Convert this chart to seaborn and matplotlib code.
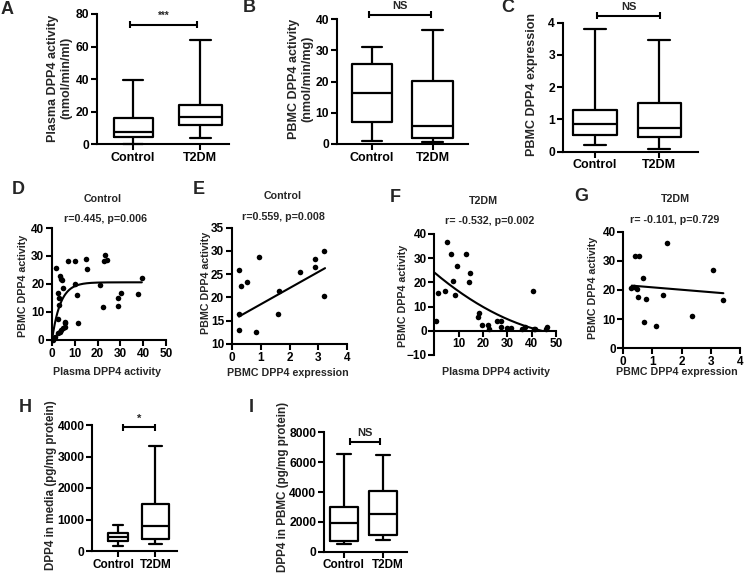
import numpy as np
import pandas as pd
import matplotlib
matplotlib.use("Agg")
import matplotlib.pyplot as plt
import matplotlib.transforms as mtrans
import seaborn as sns

# ---------------- data ----------------
groups = ["Control", "T2DM"]
# five-number summaries: [min, q1, median, q3, max]
a_control = [0.3, 4.3, 7.7, 15.9, 39.7]
a_t2dm = [3.7, 11.8, 16.5, 24.4, 64.3]
b_control = [0.96, 6.95, 16.3, 25.6, 31.2]
b_t2dm = [0.75, 2.0, 5.9, 20.3, 36.6]
c_control = [0.2, 0.52, 0.86, 1.29, 3.79]
c_t2dm = [0.08, 0.47, 0.74, 1.5, 3.46]
h_control = [160, 309, 437, 576, 821]
h_t2dm = [235, 373, 800, 1483, 3328]
i_control = [492, 737, 1900, 3017, 6525]
i_t2dm = [782, 1117, 2503, 4067, 6480]

# D: Control, plasma activity vs PBMC activity
d_x = [1.9, 2.6, 3.1, 2.6, 3.1, 3.4, 3.8, 4.3, 4.9, 2.6, 3.4, 4.1, 4.9, 5.6, 5.9, 5.9,
       0.7, 0.4, 1.2, 7.1, 10.0, 10.0, 11.0, 11.5, 15.1, 15.4, 21.0, 22.2, 23.2, 22.8,
       24.0, 28.8, 29.1, 30.1, 37.9, 39.4]
d_y = [25.7, 16.7, 14.9, 7.4, 12.5, 22.7, 21.9, 21.3, 18.5, 2.4, 3.0, 3.6, 4.2, 4.8, 6.6, 6.0,
       0.6, 0.0, 1.2, 28.1, 28.3, 20.1, 16.1, 6.2, 28.9, 25.3, 19.7, 11.9, 30.4, 28.3,
       28.4, 14.9, 12.2, 16.7, 16.4, 22.1]
d_fit_plateau, d_fit_rate, d_fit_xmax = 20.6, 0.27, 39.4

# E: Control, PBMC expression vs PBMC activity
e_x = [0.25, 0.32, 0.54, 0.25, 0.25, 0.95, 0.83, 1.59, 1.65, 2.36, 2.88, 2.88, 3.2, 3.2]
e_y = [25.8, 22.5, 23.3, 16.4, 13.0, 28.8, 12.5, 16.4, 21.3, 25.5, 28.2, 26.6, 30.0, 20.3]
e_fit_intercept, e_fit_slope, e_fit_range = 15.03, 3.49, (0.25, 3.23)

# F: T2DM, plasma activity vs PBMC activity
f_x = [0.5, 1.6, 4.3, 5.3, 6.7, 7.8, 8.5, 9.2, 13.0, 14.7, 14.4, 18.3, 18.1, 19.6, 22.0,
       22.5, 25.7, 27.5, 27.5, 29.8, 31.5, 36.0, 37.1, 40.6, 40.8, 41.5, 46.0, 46.4]
f_y = [4.0, 15.4, 16.4, 36.8, 31.7, 20.5, 14.8, 26.9, 31.7, 24.0, 20.0, 7.4, 5.8, 2.4, 2.4,
       0.7, 4.0, 4.1, 1.7, 1.3, 1.3, 0.7, 1.4, 16.4, 0.7, 0.7, 0.7, 1.4]
f_fit_coef, f_fit_xmax = (24.0, -0.845, 0.0068), 44.3

# G: T2DM, PBMC expression vs PBMC activity
g_x = [0.26, 0.40, 0.54, 0.37, 0.48, 0.51, 0.69, 0.71, 0.77, 1.12, 1.35, 1.49, 2.34, 3.06, 3.41]
g_y = [20.6, 31.7, 31.7, 21.1, 20.2, 17.7, 24.0, 9.1, 16.8, 7.7, 18.4, 36.2, 11.1, 26.9, 16.5]
g_fit_intercept, g_fit_slope, g_fit_range = 21.74, -0.828, (0.29, 3.43)

# ---------------- style ----------------
sns.set_style("ticks")
plt.rcParams["font.family"] = ["Liberation Sans", "DejaVu Sans"]
plt.rcParams["font.weight"] = "bold"
plt.rcParams["axes.labelweight"] = "bold"
plt.rcParams["axes.linewidth"] = 1.5

W, H = 745, 574
fig = plt.figure(figsize=(W / 100, H / 100), dpi=100)
fig.patch.set_facecolor("white")
FS = 7.7       # scatter panels
FSB = 9.0      # box panels


def add_ax(x0, x1, y_top, y_bot):
    return fig.add_axes([x0 / W, 1 - y_bot / H, (x1 - x0) / W, (y_bot - y_top) / H])


def ftext(x, y, s, **kw):
    kw.setdefault("ha", "center")
    kw.setdefault("va", "center")
    kw.setdefault("fontsize", FS)
    fig.text(x / W, 1 - y / H, s, fontweight="bold", **kw)


def style_ax(ax, fs):
    sns.despine(ax=ax)
    ax.tick_params(direction="out", length=4, width=1.5, labelsize=fs, pad=1.5, colors="black")
    for s in ax.spines.values():
        s.set_linewidth(1.5)
        s.set_color("black")
    ax.set_xlabel("")
    ax.set_ylabel("")
    ax.patch.set_alpha(0)


def box_panel(ax, ctrl, t2dm, widths, xlim, ylim, yticks, cat_fs=FSB, label_shift=(0, 0)):
    for g, vals, w in zip(groups, [ctrl, t2dm], widths):
        df = pd.DataFrame({"group": [g] * len(vals), "value": vals})
        sns.boxplot(data=df, x="group", y="value", order=groups, whis=(0, 100),
                    width=w, fill=False, color="black", linewidth=1.6, ax=ax)
    ax.set_xlim(*xlim)
    ax.set_ylim(*ylim)
    ax.set_yticks(yticks)
    style_ax(ax, FSB - 0.3)
    ax.tick_params(axis="x", labelsize=cat_fs, length=4)
    for tick, dx in zip(ax.xaxis.get_major_ticks(), label_shift):
        lab = tick.label1
        lab.set_transform(lab.get_transform() +
                          mtrans.ScaledTranslation(dx / 100, 0, fig.dpi_scale_trans))
    for ln in ax.lines:
        ln.set_clip_on(False)


def bracket(ax, x0, x1, y, label, half_px=3.5, fs=8):
    ax_h = ax.get_window_extent().height
    y0, y1 = ax.get_ylim()
    d = half_px / ax_h * (y1 - y0) * fig.dpi / 100
    kw = dict(color="black", lw=1.5, clip_on=False, solid_capstyle="butt")
    ax.plot([x0, x1], [y, y], **kw)
    ax.plot([x0, x0], [y - d, y + d], **kw)
    ax.plot([x1, x1], [y - d, y + d], **kw)
    ax.annotate(label, xy=((x0 + x1) / 2, y), xytext=(0, 2.5), textcoords="offset points",
                ha="center", va="bottom", fontsize=fs, fontweight="bold", annotation_clip=False)


# ---------------- A ----------------
axA = add_ax(96.7, 229.3, 14, 144.3)
box_panel(axA, a_control, a_t2dm, (0.58, 0.64), (-0.54, 1.43), (0, 80), [0, 20, 40, 60, 80])
bracket(axA, -0.05, 0.95, 73.5, "***", fs=7)
ftext(59.5, 78, "Plasma DPP4 activity\n(nmol/min/ml)", rotation=90, linespacing=1.15, fontsize=FSB)

# ---------------- B ----------------
axB = add_ax(336.7, 467.7, 19.3, 144)
box_panel(axB, b_control, b_t2dm, (0.67, 0.69), (-0.58, 1.58), (0, 40), [0, 10, 20, 30, 40])
bracket(axB, -0.05, 0.97, 41.4, "NS")
ftext(301, 79, "PBMC DPP4 activity\n(nmol/min/mg)", rotation=90, linespacing=1.15, fontsize=FSB)

# ---------------- C ----------------
axC = add_ax(562.7, 698.3, 22.7, 151.7)
box_panel(axC, c_control, c_t2dm, (0.68, 0.67), (-0.5, 1.61), (0, 4), [0, 1, 2, 3, 4])
bracket(axC, 0.03, 1.02, 4.22, "NS")
ftext(532, 85, "PBMC DPP4 expression", rotation=90, fontsize=FSB)

# ---------------- H ----------------
axH = add_ax(92.3, 176.7, 425, 551)
box_panel(axH, h_control, h_t2dm, (0.55, 0.73), (-0.69, 1.57), (0, 4000), [0, 1000, 2000, 3000, 4000],
          cat_fs=8.5, label_shift=(-4.5, 0.5))
bracket(axH, 0.12, 1.0, 3927, "*", fs=8)
ftext(51, 485, "DPP4 in media (pg/mg protein)", rotation=90, fontsize=8.4)

# ---------------- I ----------------
axI = add_ax(324, 406.7, 432.3, 551.7)
box_panel(axI, i_control, i_t2dm, (0.73, 0.70), (-0.52, 1.61), (0, 8000), [0, 2000, 4000, 6000, 8000],
          cat_fs=8.5, label_shift=(-1, 4.5))
bracket(axI, 0.15, 0.92, 7374, "NS")
ftext(283, 487, "DPP4 in PBMC (pg/mg protein)", rotation=90, fontsize=8.4)


# ---------------- scatter panels ----------------
def scatter_panel(ax, xs, ys, xlim, ylim, xticks, yticks):
    sns.scatterplot(x=xs, y=ys, ax=ax, color="black", s=16, linewidth=0, clip_on=False, zorder=3)
    ax.set_xlim(*xlim)
    ax.set_ylim(*ylim)
    ax.set_xticks(xticks)
    ax.set_yticks(yticks)
    style_ax(ax, FS + 0.8)


axD = add_ax(52, 166, 228, 340)
scatter_panel(axD, d_x, d_y, (0, 50), (0, 40), [0, 10, 20, 30, 40, 50], [0, 10, 20, 30, 40])
dxs = np.linspace(0, d_fit_xmax, 200)
sns.lineplot(x=dxs, y=d_fit_plateau * (1 - np.exp(-d_fit_rate * dxs)), ax=axD, color="black", lw=1.5)

axE = add_ax(231.7, 347.3, 227.7, 344)
scatter_panel(axE, e_x, e_y, (0, 4), (10, 35), [0, 1, 2, 3, 4], [10, 15, 20, 25, 30, 35])
exs = np.array(e_fit_range)
sns.lineplot(x=exs, y=e_fit_intercept + e_fit_slope * exs, ax=axE, color="black", lw=1.5)

axF = add_ax(434.5, 556, 233.9, 354.9)
scatter_panel(axF, f_x, f_y, (0, 50), (-10, 40), [10, 20, 30, 40, 50], [-10, 0, 10, 20, 30, 40])
axF.spines["bottom"].set_position(("data", 0))
fxs = np.linspace(0, f_fit_xmax, 200)
sns.lineplot(x=fxs, y=f_fit_coef[0] + f_fit_coef[1] * fxs + f_fit_coef[2] * fxs ** 2,
             ax=axF, color="black", lw=1.5)

axG = add_ax(623.3, 740, 231.7, 348.3)
scatter_panel(axG, g_x, g_y, (0, 4), (0, 40), [0, 1, 2, 3, 4], [0, 10, 20, 30, 40])
gxs = np.array(g_fit_range)
sns.lineplot(x=gxs, y=g_fit_intercept + g_fit_slope * gxs, ax=axG, color="black", lw=1.5)

for ax in (axD, axE, axF, axG):
    ax.set_xlabel(""); ax.set_ylabel("")

# titles / stats
ftext(103, 199, "Control")
ftext(105, 219, "r=0.445, p=0.006")
ftext(283, 196, "Control")
ftext(283, 217, "r=0.559, p=0.008")
ftext(483, 201, "T2DM")
ftext(490, 221, "r= -0.532, p=0.002")
ftext(675, 199, "T2DM")
ftext(675, 220, "r= -0.101, p=0.729")

# axis labels
ftext(23, 286, "PBMC DPP4 activity", rotation=90)
ftext(206, 283, "PBMC DPP4 activity", rotation=90)
ftext(402.5, 296, "PBMC DPP4 activity", rotation=90)
ftext(593, 288, "PBMC DPP4 activity", rotation=90)
ftext(107, 372, "Plasma DPP4 activity")
ftext(288, 373, "PBMC DPP4 expression")
ftext(496, 372, "Plasma DPP4 activity")
ftext(677, 372, "PBMC DPP4 expression")

# panel letters
for lx, ly, lab in [(7.5, 9.5, "A"), (249, 8, "B"), (507.5, 8, "C"), (18.7, 190, "D"),
                    (199, 190, "E"), (395.5, 197, "F"), (581, 196, "G"), (25, 407.5, "H"),
                    (251, 407.5, "I")]:
    ftext(lx, ly, lab, fontsize=13)

fig.savefig("out.png", dpi=100, facecolor="white")
